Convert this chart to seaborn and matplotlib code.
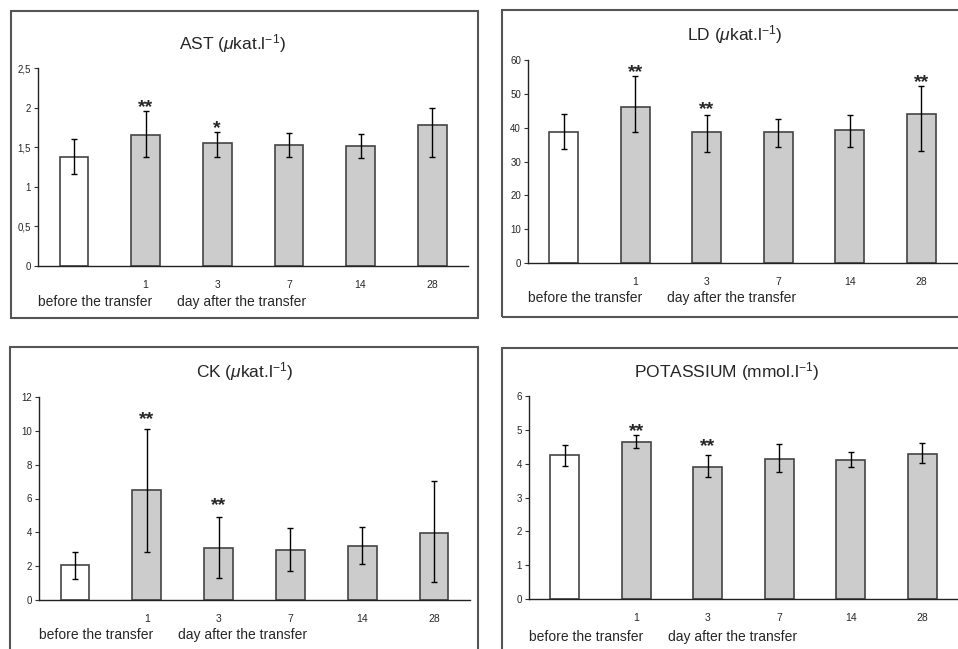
import numpy as np
import pandas as pd
import seaborn as sns
import matplotlib.pyplot as plt
from matplotlib.patches import Rectangle

# categorias (dia depois da transferencia)
days = ["before", "1", "3", "7", "14", "28"]
day_labels = ["", "1", "3", "7", "14", "28"]

# valores: media, erro para cima, erro para baixo
ast_mean = [1.38, 1.66, 1.55, 1.53, 1.51, 1.78]
ast_up = [0.22, 0.30, 0.14, 0.15, 0.16, 0.21]
ast_down = [0.22, 0.28, 0.17, 0.16, 0.15, 0.40]
ast_stars = ["", "**", "*", "", "", ""]
ast_star_y = [0, 2.06, 1.79, 0, 0, 0]

ld_mean = [38.7, 46.1, 38.7, 38.7, 39.2, 44.0]
ld_up = [5.4, 9.3, 5.0, 3.9, 4.5, 8.4]
ld_down = [5.1, 7.3, 6.0, 4.5, 5.0, 10.9]
ld_stars = ["", "**", "**", "", "", "**"]
ld_star_y = [0, 57.5, 46.7, 0, 0, 54.6]

ck_mean = [2.09, 6.53, 3.05, 2.95, 3.19, 3.99]
ck_up = [0.76, 3.60, 1.87, 1.28, 1.12, 3.03]
ck_down = [0.87, 3.72, 1.77, 1.26, 1.07, 2.95]
ck_stars = ["", "**", "**", "", "", ""]
ck_star_y = [0, 10.96, 5.84, 0, 0, 0]

k_mean = [4.25, 4.63, 3.89, 4.15, 4.10, 4.30]
k_up = [0.29, 0.23, 0.38, 0.43, 0.25, 0.30]
k_down = [0.31, 0.17, 0.29, 0.41, 0.21, 0.28]
k_stars = ["", "**", "**", "", "", ""]
k_star_y = [0, 5.09, 4.65, 0, 0, 0]

sns.set_theme(style="white")
plt.rcParams['font.family'] = ['Liberation Sans', 'DejaVu Sans']
plt.rcParams['mathtext.fontset'] = 'custom'
plt.rcParams['mathtext.rm'] = 'Liberation Sans'
plt.rcParams['mathtext.it'] = 'Liberation Sans:italic'

W, H = 958, 649
fig = plt.figure(figsize=(W / 100, H / 100), dpi=100)
fig.patch.set_facecolor("white")

def px_rect(l, t, r, b):
    return [l / W, 1 - b / H, (r - l) / W, (b - t) / H]

paineis = [
    dict(nome=r"AST ($\mathit{\mu}$kat.l$^{\mathregular{-1}}$)", mean=ast_mean, up=ast_up, down=ast_down,
         stars=ast_stars, star_y=ast_star_y, ylim=(0, 2.5), yticks=[0, 0.5, 1, 1.5, 2, 2.5],
         ylabels=["0", "0,5", "1", "1,5", "2", "2,5"],
         ax=(38, 68, 468, 266), box=(11, 11, 478, 318), title=(232, 44), lab=36),
    dict(nome=r"LD ($\mathit{\mu}$kat.l$^{\mathregular{-1}}$)", mean=ld_mean, up=ld_up, down=ld_down,
         stars=ld_stars, star_y=ld_star_y, ylim=(0, 60), yticks=[0, 10, 20, 30, 40, 50, 60],
         ylabels=["0", "10", "20", "30", "40", "50", "60"],
         ax=(528, 60, 957, 263), box=(502, 10, 975, 317), title=(735, 35), lab=35),
    dict(nome=r"CK ($\mathit{\mu}$kat.l$^{\mathregular{-1}}$)", mean=ck_mean, up=ck_up, down=ck_down,
         stars=ck_stars, star_y=ck_star_y, ylim=(0, 12), yticks=[0, 2, 4, 6, 8, 10, 12],
         ylabels=["0", "2", "4", "6", "8", "10", "12"],
         ax=(39, 397, 470, 600), box=(10, 347, 478, 665), title=(245, 372), lab=35),
    dict(nome=r"POTASSIUM (mmol.l$^{\mathregular{-1}}$)", mean=k_mean, up=k_up, down=k_down,
         stars=k_stars, star_y=k_star_y, ylim=(0, 6), yticks=[0, 1, 2, 3, 4, 5, 6],
         ylabels=["0", "1", "2", "3", "4", "5", "6"],
         ax=(529, 396, 958, 599), box=(502, 348, 975, 665), title=(727, 372), lab=38),
]

cores = ["white"] + ["#cccccc"] * 5

for p in paineis:
    # moldura do painel
    l, t, r, b = p["box"]
    fig.patches.append(Rectangle((l / W, 1 - b / H), (r - l) / W, (b - t) / H,
                                 transform=fig.transFigure, fill=False,
                                 edgecolor="#555555", linewidth=1.5, zorder=0))

    ax = fig.add_axes(px_rect(*p["ax"]))
    ax.patch.set_alpha(0)
    df = pd.DataFrame({"dia": days, "valor": p["mean"]})
    sns.barplot(ax=ax, data=df, x="dia", y="valor", hue="dia", order=days,
                palette=cores, legend=False, errorbar=None, width=0.4,
                edgecolor="#444444", linewidth=1.2, saturation=1)
    ax.errorbar(np.arange(len(days)), p["mean"], yerr=[p["down"], p["up"]],
                fmt="none", ecolor="black", elinewidth=1, capsize=2.5, capthick=1)

    for i, s in enumerate(p["stars"]):
        if s:
            ax.annotate(s, xy=(i, p["star_y"][i]), xytext=(0, -9), textcoords="offset pixels",
                        ha="center", va="baseline", fontsize=14, fontweight="bold")

    ax.set_xlim(-0.5, len(days) - 0.5)
    ax.set_ylim(*p["ylim"])
    ax.set_yticks(p["yticks"])
    ax.set_yticklabels(p["ylabels"], fontsize=7)
    ax.set_xticks(range(len(days)))
    ax.set_xticklabels(day_labels, fontsize=7.5)
    ax.set_xticks(np.arange(0.5, len(days) - 0.5, 1), minor=True)
    ax.tick_params(axis="x", which="major", length=0, pad=10)
    ax.tick_params(axis="x", which="minor", length=3, width=0.8, direction="out", color="#333333")
    ax.tick_params(axis="y", length=3, width=0.8, direction="out", pad=2, color="#333333", left=True)
    ax.set_xlabel("")
    ax.set_ylabel("")
    for lado in ["top", "right"]:
        ax.spines[lado].set_visible(False)
    for lado in ["left", "bottom"]:
        ax.spines[lado].set_color("#222222")
        ax.spines[lado].set_linewidth(1)

    ax.annotate("before the transfer", xy=(0, 0), xycoords="axes fraction",
                xytext=(0, -p["lab"]), textcoords="offset pixels", ha="left", va="center", fontsize=10)
    ax.annotate("day after the transfer", xy=(1.44, 0), xycoords=("data", "axes fraction"),
                xytext=(0, -p["lab"]), textcoords="offset pixels", ha="left", va="center", fontsize=10)

    tx, ty = p["title"]
    fig.text(tx / W, 1 - ty / H, p["nome"], ha="center", va="center", fontsize=12.5)

fig.savefig("out.png", dpi=100)
